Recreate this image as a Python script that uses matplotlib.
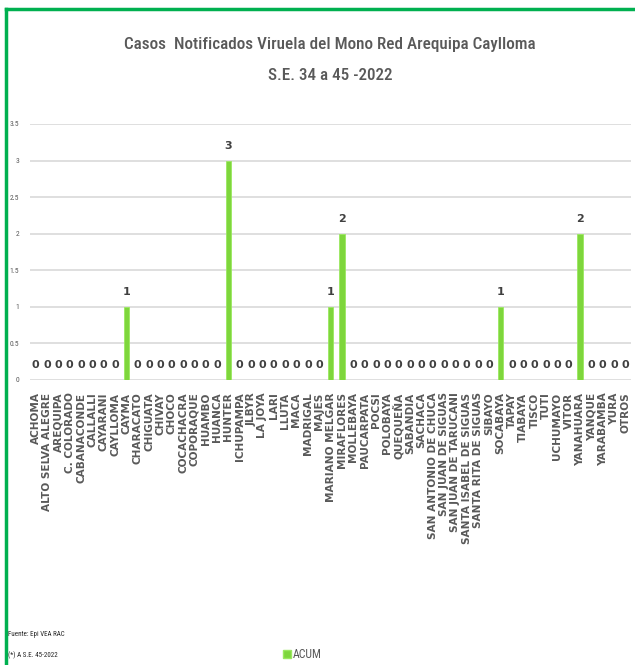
import matplotlib
matplotlib.use("Agg")
from matplotlib import pyplot as plt
from matplotlib import font_manager as fm
from matplotlib.lines import Line2D
import numpy as np

# pick a condensed face if one exists, else Liberation Sans
names = set(f.name for f in fm.fontManager.ttflist)
narrow = 'Liberation Sans'
for cand in ['Liberation Sans Narrow', 'Roboto Condensed', 'Open Sans Condensed',
             'DejaVu Sans Condensed', 'Noto Sans Condensed']:
    if cand in names:
        narrow = cand
        break
cond_bold = 'DejaVu Sans Condensed' if 'DejaVu Sans Condensed' in names else 'DejaVu Sans'

distritos = ["ACHOMA", "ALTO SELVA ALEGRE", "AREQUIPA", "C. COLORADO", "CABANACONDE",
             "CALLALLI", "CAYARANI", "CAYLLOMA", "CAYMA", "CHARACATO", "CHIGUATA",
             "CHIVAY", "CHOCO", "COCACHACRA", "COPORAQUE", "HUAMBO", "HUANCA", "HUNTER",
             "ICHUPAMPA", "JLBYR", "LA JOYA", "LARI", "LLUTA", "MACA", "MADRIGAL", "MAJES",
             "MARIANO MELGAR", "MIRAFLORES", "MOLLEBAYA", "PAUCARPATA", "POCSI", "POLOBAYA",
             "QUEQUEÑA", "SABANDIA", "SACHACA", "SAN ANTONIO DE CHUCA", "SAN JUAN DE SIGUAS",
             "SAN JUAN DE TARUCANI", "SANTA ISABEL DE SIGUAS", "SANTA RITA DE SIGUAS",
             "SIBAYO", "SOCABAYA", "TAPAY", "TIABAYA", "TISCO", "TUTI", "UCHUMAYO", "VITOR",
             "YANAHUARA", "YANQUE", "YARABAMBA", "YURA", "OTROS"]
acum = [0, 0, 0, 0, 0, 0, 0, 0, 1, 0, 0, 0, 0, 0, 0, 0, 0, 3,
        0, 0, 0, 0, 0, 0, 0, 0, 1, 2, 0, 0, 0, 0, 0, 0, 0, 0, 0,
        0, 0, 0, 0, 1, 0, 0, 0, 0, 0, 0, 2, 0, 0, 0, 0]
yticks = [0, 0.5, 1, 1.5, 2, 2.5, 3, 3.5]

gris = '#595959'
verde = '#7ED63C'

fig = plt.figure(figsize=(6.35, 6.65), dpi=100)
ax = fig.add_axes([30/635, 1 - 380/665, 601/635, 256/665])

x = np.arange(len(distritos))
ax.bar(x, acum, width=0.5, color=verde, edgecolor='#9BE860', linewidth=0.6, zorder=3)
for xi, v in zip(x, acum):
    ax.text(xi, v + 0.13, str(v), ha='center', va='bottom', fontsize=8,
            fontweight='bold', color='#404040', family=cond_bold)

ax.set_xlim(-0.5, len(distritos) - 0.5)
ax.set_ylim(0, 3.5)
ax.set_yticks(yticks)
ax.set_yticklabels([f"{t:g}" for t in yticks], fontsize=5.5, color=gris, family=narrow)
ax.tick_params(axis='y', length=0, pad=8)
ax.set_xticks(x)
ax.set_xticklabels(distritos, rotation=90, fontsize=7.6, fontweight='bold',
                   color=gris, family='DejaVu Sans', va='top')
ax.tick_params(axis='x', length=0, pad=9)
ax.grid(axis='y', color='#D9D9D9', linewidth=1.2, zorder=0)
for s in ax.spines.values():
    s.set_visible(False)

fig.text(330/635, 1 - 45/665, "Casos  Notificados Viruela del Mono Red Arequipa Caylloma",
         ha='center', va='center', fontsize=12.3, fontweight='medium', color=gris, family=narrow)
fig.text(330/635, 1 - 76/665, "S.E. 34 a 45 -2022",
         ha='center', va='center', fontsize=12.3, fontweight='medium', color=gris, family=narrow)

fig.text(8/635, 1 - 634/665, "Fuente: Epi VEA RAC", ha='left', va='center',
         fontsize=5, color='#262626', family=narrow)
fig.text(8/635, 1 - 655/665, "(*) A S.E. 45-2022", ha='left', va='center',
         fontsize=5, color='#262626', family=narrow)

handle = Line2D([], [], marker='s', linestyle='none', markersize=5.5,
                markerfacecolor=verde, markeredgecolor='#9BE860')
fig.legend([handle], ["ACUM"], loc='center', bbox_to_anchor=(302/635, 1 - 655/665),
           frameon=False, handletextpad=0.1, handlelength=0.8,
           prop={'family': narrow, 'size': 8.5}, labelcolor=gris)

# green frame at top and left
fig.add_artist(Line2D([6/635, 1], [1 - 9/665, 1 - 9/665], color='#00B050', linewidth=2.5))
fig.add_artist(Line2D([6/635, 6/635], [1 - 9/665, 0], color='#00B050', linewidth=2.5))

fig.savefig("out.png", dpi=100)
